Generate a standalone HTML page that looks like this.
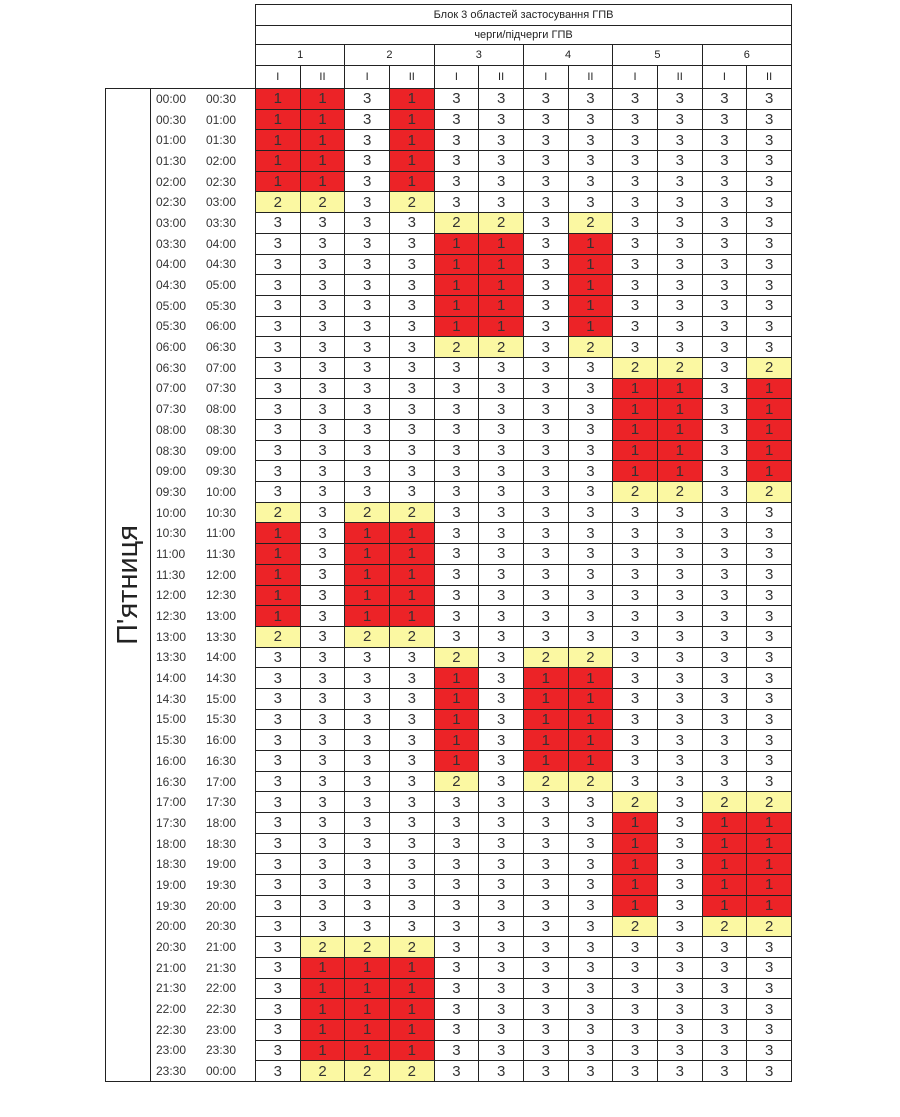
<!DOCTYPE html>
<html><head><meta charset="utf-8">
<style>
body{margin:0;background:#fff;width:900px;height:1117px;position:relative;font-family:"Liberation Sans",Arial,sans-serif}
table{position:absolute;left:105px;top:4px;border-collapse:collapse;table-layout:fixed;width:686px}
td{border:1.5px solid #222;text-align:center;padding:0;font-size:15px;color:#333;line-height:1;overflow:hidden;white-space:nowrap}
tr.d{height:20.69px}
tr.d td{height:17px}
td.r{background:#ec2327}
td.y{background:#fbf8a2}
td.n{border:none}
td.h{font-size:11px;color:#222}
td.t{border-top:none;border-bottom:none;font-size:12px;text-align:left;color:#333}
td.t span{display:inline-block;width:47px;padding-left:5px;box-sizing:border-box}
td.t span+span{padding-left:8px}
td.day{vertical-align:middle}
td.day div{writing-mode:vertical-rl;transform:rotate(180deg);font-size:29px;color:#222;margin:auto}
tr.last td.t{border-bottom:1.5px solid #222}
</style></head><body>
<table>
<colgroup><col style="width:45px"><col style="width:105px"><col span="12" style="width:44.67px"></colgroup>
<tr style="height:21px"><td class="n"></td><td class="n"></td><td class="h" colspan="12">Блок 3 областей застосування ГПВ</td></tr>
<tr style="height:19px"><td class="n"></td><td class="n"></td><td class="h" colspan="12">черги/підчерги ГПВ</td></tr>
<tr style="height:21px"><td class="n"></td><td class="n"></td><td class="h" colspan="2">1</td><td class="h" colspan="2">2</td><td class="h" colspan="2">3</td><td class="h" colspan="2">4</td><td class="h" colspan="2">5</td><td class="h" colspan="2">6</td></tr>
<tr style="height:23px"><td class="n"></td><td class="n"></td><td class="h">I</td><td class="h">II</td><td class="h">I</td><td class="h">II</td><td class="h">I</td><td class="h">II</td><td class="h">I</td><td class="h">II</td><td class="h">I</td><td class="h">II</td><td class="h">I</td><td class="h">II</td></tr>
<tr class="d"><td class="day" rowspan="48"><div>П'ятниця</div></td><td class="t" style="border-top:1.5px solid #222"><span>00:00</span><span>00:30</span></td><td class="r">1</td><td class="r">1</td><td>3</td><td class="r">1</td><td>3</td><td>3</td><td>3</td><td>3</td><td>3</td><td>3</td><td>3</td><td>3</td></tr>
<tr class="d"><td class="t"><span>00:30</span><span>01:00</span></td><td class="r">1</td><td class="r">1</td><td>3</td><td class="r">1</td><td>3</td><td>3</td><td>3</td><td>3</td><td>3</td><td>3</td><td>3</td><td>3</td></tr>
<tr class="d"><td class="t"><span>01:00</span><span>01:30</span></td><td class="r">1</td><td class="r">1</td><td>3</td><td class="r">1</td><td>3</td><td>3</td><td>3</td><td>3</td><td>3</td><td>3</td><td>3</td><td>3</td></tr>
<tr class="d"><td class="t"><span>01:30</span><span>02:00</span></td><td class="r">1</td><td class="r">1</td><td>3</td><td class="r">1</td><td>3</td><td>3</td><td>3</td><td>3</td><td>3</td><td>3</td><td>3</td><td>3</td></tr>
<tr class="d"><td class="t"><span>02:00</span><span>02:30</span></td><td class="r">1</td><td class="r">1</td><td>3</td><td class="r">1</td><td>3</td><td>3</td><td>3</td><td>3</td><td>3</td><td>3</td><td>3</td><td>3</td></tr>
<tr class="d"><td class="t"><span>02:30</span><span>03:00</span></td><td class="y">2</td><td class="y">2</td><td>3</td><td class="y">2</td><td>3</td><td>3</td><td>3</td><td>3</td><td>3</td><td>3</td><td>3</td><td>3</td></tr>
<tr class="d"><td class="t"><span>03:00</span><span>03:30</span></td><td>3</td><td>3</td><td>3</td><td>3</td><td class="y">2</td><td class="y">2</td><td>3</td><td class="y">2</td><td>3</td><td>3</td><td>3</td><td>3</td></tr>
<tr class="d"><td class="t"><span>03:30</span><span>04:00</span></td><td>3</td><td>3</td><td>3</td><td>3</td><td class="r">1</td><td class="r">1</td><td>3</td><td class="r">1</td><td>3</td><td>3</td><td>3</td><td>3</td></tr>
<tr class="d"><td class="t"><span>04:00</span><span>04:30</span></td><td>3</td><td>3</td><td>3</td><td>3</td><td class="r">1</td><td class="r">1</td><td>3</td><td class="r">1</td><td>3</td><td>3</td><td>3</td><td>3</td></tr>
<tr class="d"><td class="t"><span>04:30</span><span>05:00</span></td><td>3</td><td>3</td><td>3</td><td>3</td><td class="r">1</td><td class="r">1</td><td>3</td><td class="r">1</td><td>3</td><td>3</td><td>3</td><td>3</td></tr>
<tr class="d"><td class="t"><span>05:00</span><span>05:30</span></td><td>3</td><td>3</td><td>3</td><td>3</td><td class="r">1</td><td class="r">1</td><td>3</td><td class="r">1</td><td>3</td><td>3</td><td>3</td><td>3</td></tr>
<tr class="d"><td class="t"><span>05:30</span><span>06:00</span></td><td>3</td><td>3</td><td>3</td><td>3</td><td class="r">1</td><td class="r">1</td><td>3</td><td class="r">1</td><td>3</td><td>3</td><td>3</td><td>3</td></tr>
<tr class="d"><td class="t"><span>06:00</span><span>06:30</span></td><td>3</td><td>3</td><td>3</td><td>3</td><td class="y">2</td><td class="y">2</td><td>3</td><td class="y">2</td><td>3</td><td>3</td><td>3</td><td>3</td></tr>
<tr class="d"><td class="t"><span>06:30</span><span>07:00</span></td><td>3</td><td>3</td><td>3</td><td>3</td><td>3</td><td>3</td><td>3</td><td>3</td><td class="y">2</td><td class="y">2</td><td>3</td><td class="y">2</td></tr>
<tr class="d"><td class="t"><span>07:00</span><span>07:30</span></td><td>3</td><td>3</td><td>3</td><td>3</td><td>3</td><td>3</td><td>3</td><td>3</td><td class="r">1</td><td class="r">1</td><td>3</td><td class="r">1</td></tr>
<tr class="d"><td class="t"><span>07:30</span><span>08:00</span></td><td>3</td><td>3</td><td>3</td><td>3</td><td>3</td><td>3</td><td>3</td><td>3</td><td class="r">1</td><td class="r">1</td><td>3</td><td class="r">1</td></tr>
<tr class="d"><td class="t"><span>08:00</span><span>08:30</span></td><td>3</td><td>3</td><td>3</td><td>3</td><td>3</td><td>3</td><td>3</td><td>3</td><td class="r">1</td><td class="r">1</td><td>3</td><td class="r">1</td></tr>
<tr class="d"><td class="t"><span>08:30</span><span>09:00</span></td><td>3</td><td>3</td><td>3</td><td>3</td><td>3</td><td>3</td><td>3</td><td>3</td><td class="r">1</td><td class="r">1</td><td>3</td><td class="r">1</td></tr>
<tr class="d"><td class="t"><span>09:00</span><span>09:30</span></td><td>3</td><td>3</td><td>3</td><td>3</td><td>3</td><td>3</td><td>3</td><td>3</td><td class="r">1</td><td class="r">1</td><td>3</td><td class="r">1</td></tr>
<tr class="d"><td class="t"><span>09:30</span><span>10:00</span></td><td>3</td><td>3</td><td>3</td><td>3</td><td>3</td><td>3</td><td>3</td><td>3</td><td class="y">2</td><td class="y">2</td><td>3</td><td class="y">2</td></tr>
<tr class="d"><td class="t"><span>10:00</span><span>10:30</span></td><td class="y">2</td><td>3</td><td class="y">2</td><td class="y">2</td><td>3</td><td>3</td><td>3</td><td>3</td><td>3</td><td>3</td><td>3</td><td>3</td></tr>
<tr class="d"><td class="t"><span>10:30</span><span>11:00</span></td><td class="r">1</td><td>3</td><td class="r">1</td><td class="r">1</td><td>3</td><td>3</td><td>3</td><td>3</td><td>3</td><td>3</td><td>3</td><td>3</td></tr>
<tr class="d"><td class="t"><span>11:00</span><span>11:30</span></td><td class="r">1</td><td>3</td><td class="r">1</td><td class="r">1</td><td>3</td><td>3</td><td>3</td><td>3</td><td>3</td><td>3</td><td>3</td><td>3</td></tr>
<tr class="d"><td class="t"><span>11:30</span><span>12:00</span></td><td class="r">1</td><td>3</td><td class="r">1</td><td class="r">1</td><td>3</td><td>3</td><td>3</td><td>3</td><td>3</td><td>3</td><td>3</td><td>3</td></tr>
<tr class="d"><td class="t"><span>12:00</span><span>12:30</span></td><td class="r">1</td><td>3</td><td class="r">1</td><td class="r">1</td><td>3</td><td>3</td><td>3</td><td>3</td><td>3</td><td>3</td><td>3</td><td>3</td></tr>
<tr class="d"><td class="t"><span>12:30</span><span>13:00</span></td><td class="r">1</td><td>3</td><td class="r">1</td><td class="r">1</td><td>3</td><td>3</td><td>3</td><td>3</td><td>3</td><td>3</td><td>3</td><td>3</td></tr>
<tr class="d"><td class="t"><span>13:00</span><span>13:30</span></td><td class="y">2</td><td>3</td><td class="y">2</td><td class="y">2</td><td>3</td><td>3</td><td>3</td><td>3</td><td>3</td><td>3</td><td>3</td><td>3</td></tr>
<tr class="d"><td class="t"><span>13:30</span><span>14:00</span></td><td>3</td><td>3</td><td>3</td><td>3</td><td class="y">2</td><td>3</td><td class="y">2</td><td class="y">2</td><td>3</td><td>3</td><td>3</td><td>3</td></tr>
<tr class="d"><td class="t"><span>14:00</span><span>14:30</span></td><td>3</td><td>3</td><td>3</td><td>3</td><td class="r">1</td><td>3</td><td class="r">1</td><td class="r">1</td><td>3</td><td>3</td><td>3</td><td>3</td></tr>
<tr class="d"><td class="t"><span>14:30</span><span>15:00</span></td><td>3</td><td>3</td><td>3</td><td>3</td><td class="r">1</td><td>3</td><td class="r">1</td><td class="r">1</td><td>3</td><td>3</td><td>3</td><td>3</td></tr>
<tr class="d"><td class="t"><span>15:00</span><span>15:30</span></td><td>3</td><td>3</td><td>3</td><td>3</td><td class="r">1</td><td>3</td><td class="r">1</td><td class="r">1</td><td>3</td><td>3</td><td>3</td><td>3</td></tr>
<tr class="d"><td class="t"><span>15:30</span><span>16:00</span></td><td>3</td><td>3</td><td>3</td><td>3</td><td class="r">1</td><td>3</td><td class="r">1</td><td class="r">1</td><td>3</td><td>3</td><td>3</td><td>3</td></tr>
<tr class="d"><td class="t"><span>16:00</span><span>16:30</span></td><td>3</td><td>3</td><td>3</td><td>3</td><td class="r">1</td><td>3</td><td class="r">1</td><td class="r">1</td><td>3</td><td>3</td><td>3</td><td>3</td></tr>
<tr class="d"><td class="t"><span>16:30</span><span>17:00</span></td><td>3</td><td>3</td><td>3</td><td>3</td><td class="y">2</td><td>3</td><td class="y">2</td><td class="y">2</td><td>3</td><td>3</td><td>3</td><td>3</td></tr>
<tr class="d"><td class="t"><span>17:00</span><span>17:30</span></td><td>3</td><td>3</td><td>3</td><td>3</td><td>3</td><td>3</td><td>3</td><td>3</td><td class="y">2</td><td>3</td><td class="y">2</td><td class="y">2</td></tr>
<tr class="d"><td class="t"><span>17:30</span><span>18:00</span></td><td>3</td><td>3</td><td>3</td><td>3</td><td>3</td><td>3</td><td>3</td><td>3</td><td class="r">1</td><td>3</td><td class="r">1</td><td class="r">1</td></tr>
<tr class="d"><td class="t"><span>18:00</span><span>18:30</span></td><td>3</td><td>3</td><td>3</td><td>3</td><td>3</td><td>3</td><td>3</td><td>3</td><td class="r">1</td><td>3</td><td class="r">1</td><td class="r">1</td></tr>
<tr class="d"><td class="t"><span>18:30</span><span>19:00</span></td><td>3</td><td>3</td><td>3</td><td>3</td><td>3</td><td>3</td><td>3</td><td>3</td><td class="r">1</td><td>3</td><td class="r">1</td><td class="r">1</td></tr>
<tr class="d"><td class="t"><span>19:00</span><span>19:30</span></td><td>3</td><td>3</td><td>3</td><td>3</td><td>3</td><td>3</td><td>3</td><td>3</td><td class="r">1</td><td>3</td><td class="r">1</td><td class="r">1</td></tr>
<tr class="d"><td class="t"><span>19:30</span><span>20:00</span></td><td>3</td><td>3</td><td>3</td><td>3</td><td>3</td><td>3</td><td>3</td><td>3</td><td class="r">1</td><td>3</td><td class="r">1</td><td class="r">1</td></tr>
<tr class="d"><td class="t"><span>20:00</span><span>20:30</span></td><td>3</td><td>3</td><td>3</td><td>3</td><td>3</td><td>3</td><td>3</td><td>3</td><td class="y">2</td><td>3</td><td class="y">2</td><td class="y">2</td></tr>
<tr class="d"><td class="t"><span>20:30</span><span>21:00</span></td><td>3</td><td class="y">2</td><td class="y">2</td><td class="y">2</td><td>3</td><td>3</td><td>3</td><td>3</td><td>3</td><td>3</td><td>3</td><td>3</td></tr>
<tr class="d"><td class="t"><span>21:00</span><span>21:30</span></td><td>3</td><td class="r">1</td><td class="r">1</td><td class="r">1</td><td>3</td><td>3</td><td>3</td><td>3</td><td>3</td><td>3</td><td>3</td><td>3</td></tr>
<tr class="d"><td class="t"><span>21:30</span><span>22:00</span></td><td>3</td><td class="r">1</td><td class="r">1</td><td class="r">1</td><td>3</td><td>3</td><td>3</td><td>3</td><td>3</td><td>3</td><td>3</td><td>3</td></tr>
<tr class="d"><td class="t"><span>22:00</span><span>22:30</span></td><td>3</td><td class="r">1</td><td class="r">1</td><td class="r">1</td><td>3</td><td>3</td><td>3</td><td>3</td><td>3</td><td>3</td><td>3</td><td>3</td></tr>
<tr class="d"><td class="t"><span>22:30</span><span>23:00</span></td><td>3</td><td class="r">1</td><td class="r">1</td><td class="r">1</td><td>3</td><td>3</td><td>3</td><td>3</td><td>3</td><td>3</td><td>3</td><td>3</td></tr>
<tr class="d"><td class="t"><span>23:00</span><span>23:30</span></td><td>3</td><td class="r">1</td><td class="r">1</td><td class="r">1</td><td>3</td><td>3</td><td>3</td><td>3</td><td>3</td><td>3</td><td>3</td><td>3</td></tr>
<tr class="d last"><td class="t"><span>23:30</span><span>00:00</span></td><td>3</td><td class="y">2</td><td class="y">2</td><td class="y">2</td><td>3</td><td>3</td><td>3</td><td>3</td><td>3</td><td>3</td><td>3</td><td>3</td></tr>
</table>
</body></html>
